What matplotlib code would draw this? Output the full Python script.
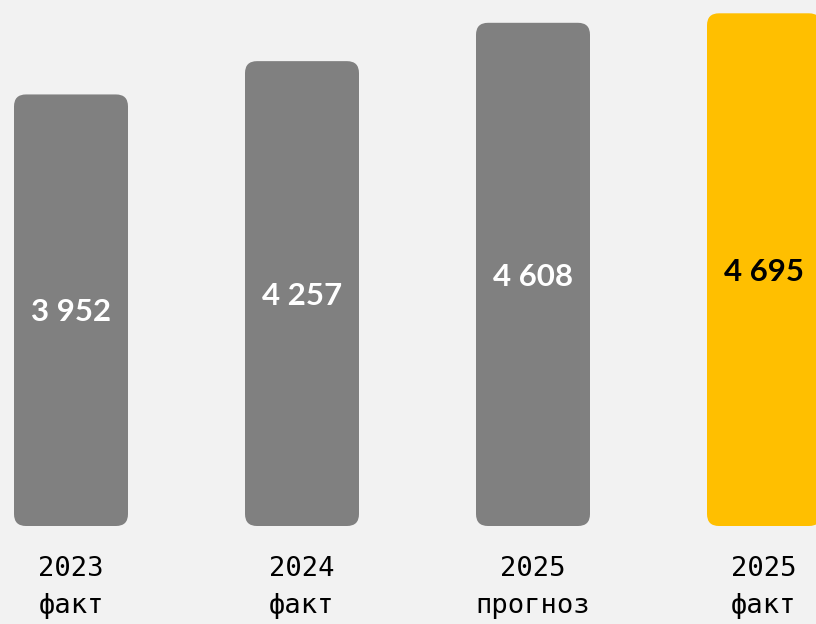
import matplotlib.pyplot as plt
from matplotlib.patches import FancyBboxPatch
from matplotlib.transforms import blended_transform_factory

years = ['2023', '2024', '2025', '2025']
kinds = ['факт', 'факт', 'прогноз', 'факт']
values = [3952, 4257, 4608, 4695]
colors = ['#808080', '#808080', '#808080', '#FFBF00']
text_colors = ['white', 'white', 'white', 'black']

W, H = 816, 624
px_x = 231.0      # pixels per category step
px_y = 0.1092     # pixels per value unit
x0_px, base_px = 71, 526

fig = plt.figure(figsize=(W / 100, H / 100), dpi=100)
fig.patch.set_facecolor('#F2F2F2')
ax = fig.add_axes([0, 0, 1, 1])
ax.set_facecolor('#F2F2F2')
ax.set_xlim(-x0_px / px_x, (W - x0_px) / px_x)
ax.set_ylim(-(H - base_px) / px_y, base_px / px_y)
ax.axis('off')

width = 114 / px_x
rad = 12 / px_x
aspect = (12 / px_y) / rad

for i, v in enumerate(values):
    box = FancyBboxPatch((i - width / 2, 0), width, v,
                         boxstyle=f'round,pad=0,rounding_size={rad}',
                         mutation_aspect=aspect,
                         facecolor=colors[i], edgecolor='none')
    ax.add_patch(box)
    # value label sits at half the bar height
    ax.text(i, v / 2 - 20, f'{v // 1000} {v % 1000:03d}', ha='center', va='center',
            color=text_colors[i], fontsize=22.5, fontweight='bold',
            family=['Lato', 'DejaVu Sans'])

trans = blended_transform_factory(ax.transData, fig.transFigure)
for i, (y, k) in enumerate(zip(years, kinds)):
    ax.text(i, 1 - 569 / H, y, transform=trans, ha='center', va='center',
            fontsize=19.5, family='DejaVu Sans Mono', color='black')
    ax.text(i, 1 - 606 / H, k, transform=trans, ha='center', va='center',
            fontsize=19.5, family='DejaVu Sans Mono', color='black')

fig.savefig('out.png', dpi=100, facecolor=fig.get_facecolor())
